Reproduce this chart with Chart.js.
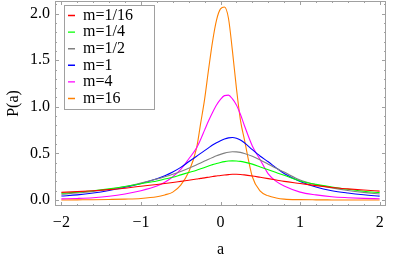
<!DOCTYPE html>
<html><head><meta charset="utf-8">
<script src="https://cdn.jsdelivr.net/npm/chart.js@4.4.0/dist/chart.umd.min.js"></script>
<style>html,body{margin:0;padding:0;background:#fff;}#wrap{width:415px;height:259px;}</style>
</head><body><div id="wrap"><canvas id="c" width="415" height="259"></canvas></div>
<script>
// ---- data ----
const xs = [-2,-1.8,-1.6,-1.4,-1.2,-1,-0.8,-0.7,-0.6,-0.5,-0.4,-0.3,-0.25,-0.2,-0.15,-0.1,-0.05,0,0.05,0.1,0.15,0.2,0.25,0.3,0.4,0.5,0.6,0.7,0.8,1,1.2,1.4,1.6,1.8,2];
const seriesNames = ["m=1/16","m=1/4","m=1/2","m=1","m=4","m=16"];
const m1_16 = [0.082,0.09,0.1,0.112,0.127,0.148,0.167,0.177,0.188,0.2,0.212,0.225,0.232,0.238,0.245,0.252,0.258,0.264,0.269,0.273,0.276,0.276,0.274,0.27,0.258,0.244,0.23,0.215,0.2,0.178,0.155,0.135,0.12,0.107,0.096];
const m1_4  = [0.072,0.085,0.1,0.12,0.145,0.175,0.205,0.225,0.245,0.27,0.295,0.32,0.335,0.35,0.365,0.38,0.392,0.403,0.412,0.418,0.42,0.419,0.415,0.407,0.385,0.355,0.325,0.295,0.265,0.205,0.168,0.14,0.115,0.095,0.079];
const m1_2  = [0.062,0.075,0.092,0.115,0.145,0.183,0.225,0.25,0.277,0.307,0.34,0.378,0.398,0.418,0.438,0.457,0.475,0.49,0.503,0.513,0.518,0.517,0.511,0.5,0.47,0.43,0.385,0.34,0.3,0.215,0.165,0.13,0.103,0.082,0.065];
const m1    = [0.043,0.055,0.075,0.103,0.138,0.178,0.228,0.26,0.3,0.35,0.41,0.47,0.5,0.53,0.56,0.59,0.615,0.637,0.655,0.667,0.67,0.662,0.643,0.615,0.54,0.47,0.41,0.345,0.285,0.2,0.14,0.1,0.075,0.056,0.042];
const m4    = [0.012,0.017,0.025,0.04,0.065,0.1,0.15,0.19,0.25,0.33,0.44,0.56,0.65,0.75,0.85,0.94,1.02,1.08,1.12,1.125,1.085,1.02,0.92,0.8,0.58,0.43,0.28,0.2,0.15,0.085,0.055,0.035,0.025,0.018,0.014];
const m16   = [0.001,0.002,0.003,0.006,0.01,0.017,0.035,0.055,0.085,0.16,0.3,0.56,0.82,1.08,1.4,1.7,1.93,2.05,2.07,1.95,1.6,1.2,0.86,0.65,0.25,0.095,0.045,0.022,0.01,0.004,0.002,0.001,0,0,0];
const seriesColors = ["#ff0000","#00ff00","#808080","#0000ff","#ff00ff","#ff8000"];
const xTicks = [-2,-1,0,1,2];
const yTicks = [0,0.5,1,1.5,2];

const allSeries = [m1_16,m1_4,m1_2,m1,m4,m16];
const datasets = allSeries.map((ys,i)=>({
  label: seriesNames[i],
  data: xs.map((x,j)=>({x:x,y:ys[j]})),
  borderColor: seriesColors[i],
  backgroundColor: seriesColors[i],
  borderWidth: 1.1,
  pointRadius: 0,
  cubicInterpolationMode: 'monotone',
  fill: false
}));

const FONT = "'Liberation Serif','Times New Roman',serif";
const frameColor = '#a0a0a0';
const LEG_PAD = 0.6, LEG_BOX = 7, LEG_FONT = 16;

const framePlugin = {
  id: 'frame',
  afterLayout(chart){
    const lg = chart.legend;
    if (lg) { lg.left = chart.chartArea.left + 12.4; lg.top = chart.chartArea.top + 5.9; }
  },
  beforeDatasetsDraw(chart){
    const {ctx, chartArea:a, scales} = chart;
    ctx.save();
    ctx.strokeStyle = frameColor; ctx.lineWidth = 1;
    ctx.strokeRect(Math.round(a.left)+0.5, Math.round(a.top)+0.5, Math.round(a.right-a.left)-1, Math.round(a.bottom-a.top)-1);
    ctx.beginPath();
    const xs_ = scales.x, ys_ = scales.y;
    for (let k=-10;k<=10;k++){
      const v = k*0.2; const major = (k%5===0); const L = major?4:2;
      const px = Math.round(xs_.getPixelForValue(v))+0.5;
      ctx.moveTo(px,a.bottom); ctx.lineTo(px,a.bottom-L);
      ctx.moveTo(px,a.top); ctx.lineTo(px,a.top+L);
    }
    for (let k=0;k<=21;k++){
      const v = k*0.1; const major = (k%5===0); const L = major?4:2;
      const py = Math.round(ys_.getPixelForValue(v))+0.5;
      ctx.moveTo(a.left,py); ctx.lineTo(a.left+L,py);
      ctx.moveTo(a.right,py); ctx.lineTo(a.right-L,py);
    }
    ctx.stroke();
    ctx.restore();
  },
  afterDraw(chart){
    const lg = chart.legend; if(!lg) return;
    const ctx = chart.ctx;
    ctx.save();
    ctx.font = LEG_FONT+"px "+FONT;
    let mw = 0; lg.legendItems.forEach(it=>{mw=Math.max(mw,ctx.measureText(it.text).width);});
    const n = lg.legendItems.length;
    const bx = Math.round(lg.left - 3.4) + 0.5;
    const by = Math.round(lg.top - 2.4) + 0.5;
    const textX = lg.left + LEG_PAD + LEG_BOX + LEG_FONT/2;
    const w = Math.round(textX + mw + 22 - bx);
    const h = Math.round(n*(LEG_FONT+LEG_PAD) + 4);
    ctx.strokeStyle = frameColor; ctx.lineWidth = 1;
    ctx.strokeRect(bx, by, w, h);
    ctx.restore();
  }
};

Chart.defaults.color = '#000';
new Chart(document.getElementById('c'), {
  type: 'line',
  data: {datasets},
  options: {
    responsive: false, animation: false, devicePixelRatio: 1,
    layout: {padding: {top: 1, right: 29, left: 0, bottom: 0}},
    plugins: {
      tooltip: {enabled:false},
      legend: {
        position: 'chartArea', align: 'start',
        labels: {
          boxWidth: LEG_BOX, boxHeight: 1.4, padding: LEG_PAD,
          font: {family: FONT, size: LEG_FONT},
          color: '#000',
          generateLabels(chart){
            return Chart.defaults.plugins.legend.labels.generateLabels(chart).map(l=>Object.assign(l,{lineWidth:0}));
          }
        }
      }
    },
    scales: {
      x: {
        type: 'linear', min: -2.08, max: 2.08,
        afterBuildTicks(s){ s.ticks = xTicks.map(v=>({value:v})); },
        afterFit(s){ s.height = 53; s.paddingLeft = 0; s.paddingRight = 0; },
        grid: {display:false, drawTicks:false}, border:{display:false},
        ticks: {padding: 7, font:{family:FONT,size:16}, color:'#000', maxRotation:0,
          callback: v => (v<0? '\u2212'+Math.abs(v) : String(v))},
        title: {display:true, text:'a', font:{family:FONT,size:16}, color:'#000', padding:{top:0,bottom:0}}
      },
      y: {
        type: 'linear', min: -0.064, max: 2.135,
        afterBuildTicks(s){ s.ticks = yTicks.map(v=>({value:v})); },
        afterFit(s){ s.width = 55; s.paddingTop = 0; s.paddingBottom = 0; },
        grid: {display:false, drawTicks:false}, border:{display:false},
        ticks: {padding: 5, font:{family:FONT,size:16}, color:'#000',
          callback: v => Number(v).toFixed(1)},
        title: {display:true, text:'P(a)', font:{family:FONT,size:16}, color:'#000', padding:{top:4,bottom:0}}
      }
    }
  },
  plugins: [framePlugin]
});
</script>
</body></html>
